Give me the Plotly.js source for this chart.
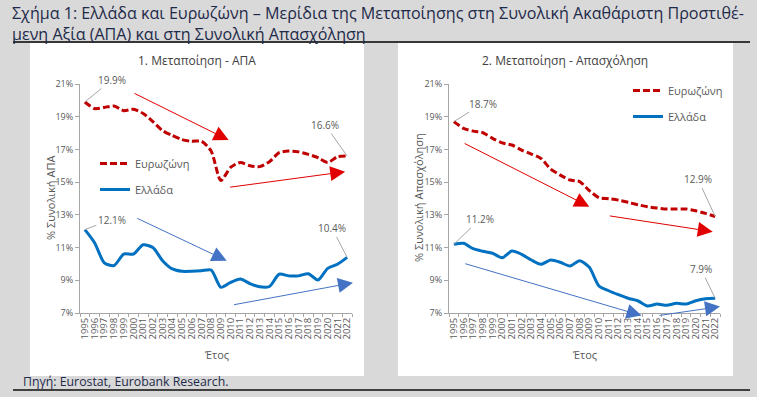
<!DOCTYPE html>
<html>
<head>
<meta charset="utf-8">
<script src="https://cdn.plot.ly/plotly-3.0.1.min.js"></script>
<style>html,body{margin:0;padding:0;background:#d9d9d9;}#chart{width:757px;height:397px;}</style>
</head>
<body>
<div id="chart"></div>
<script>
// ---- data ----
const years = [1995,1996,1997,1998,1999,2000,2001,2002,2003,2004,2005,2006,2007,2008,2009,2010,2011,2012,2013,2014,2015,2016,2017,2018,2019,2020,2021,2022];
const gvaEurozone = [19.9,19.5,19.57,19.65,19.37,19.45,19.2,18.7,18.15,17.85,17.6,17.5,17.5,16.9,15.1,15.9,16.2,16.0,15.95,16.25,16.8,16.9,16.85,16.7,16.5,16.2,16.55,16.6];
const gvaGreece = [12.1,11.3,10.07,9.9,10.6,10.6,11.17,11.0,10.2,9.7,9.55,9.55,9.58,9.63,8.57,8.87,9.08,8.8,8.6,8.62,9.37,9.27,9.27,9.4,9.02,9.73,9.98,10.4];
const empEurozone = [18.7,18.29,18.12,18.02,17.68,17.4,17.27,16.96,16.72,16.45,15.8,15.43,15.13,15.03,14.48,14.05,13.99,13.9,13.77,13.62,13.5,13.42,13.36,13.36,13.36,13.25,13.09,12.9];
const empGreece = [11.2,11.26,10.93,10.77,10.65,10.38,10.79,10.59,10.24,9.98,10.24,10.1,9.87,10.2,9.79,8.65,8.36,8.12,7.9,7.75,7.43,7.55,7.47,7.59,7.55,7.75,7.87,7.9];
const seriesNames = ["Ευρωζώνη", "Ελλάδα"];
const panelTitles = ["1. Μεταποίηση - ΑΠΑ", "2. Μεταποίηση - Απασχόληση"];
const yTitles = ["% Συνολική ΑΠΑ", "% Συνολική Απασχόληση"];
const xTitle = "Έτος";
const yTicks = [7,9,11,13,15,17,19,21];
const chartTitle = "Σχήμα 1: Ελλάδα και Ευρωζώνη – Μερίδια της Μεταποίησης στη Συνολική Ακαθάριστη Προστιθέ-<br>μενη Αξία (ΑΠΑ) και στη Συνολική Απασχόληση";
const sourceText = "Πηγή: Eurostat, Eurobank Research.";
// trend arrows: [panel, series, fromYear, fromValue, toYear, toValue]
const trendArrows = [
  [1, 0, 1999.96, 20.47, 2009.8, 17.57],
  [1, 0, 2009.8, 14.68, 2021.8, 15.64],
  [1, 1, 2000.24, 12.83, 2009.6, 10.2],
  [1, 1, 2010.2, 7.49, 2022.6, 8.85],
  [2, 0, 1995.96, 17.41, 2009.0, 13.5],
  [2, 0, 2010.96, 12.95, 2021.75, 11.97],
  [2, 1, 1996.03, 10.04, 2014.4, 6.84],
  [2, 1, 2016.1, 6.84, 2022.5, 7.39]
];
// ---- end data ----

const RED = '#c00000', BLUE = '#0070c0';
const FONT = 'Open Sans, Liberation Sans, sans-serif';
const GRAY = '#595959';
const NAVY = '#1e2a4a';
const cats = years.map(String);
const idx = y => y - years[0];

function lineTrace(y, i, xa, ya, leg) {
  return {
    x: cats, y: y, type: 'scatter', mode: 'lines',
    name: seriesNames[i], xaxis: xa, yaxis: ya, legend: leg,
    legendgroup: leg + i, showlegend: true,
    line: i === 0 ? {color: RED, width: 3, dash: '7px,3px', shape: 'spline', smoothing: 0.7}
                  : {color: BLUE, width: 3, shape: 'spline', smoothing: 0.7},
    hoverinfo: 'skip'
  };
}

const traces = [
  lineTrace(gvaEurozone, 0, 'x', 'y', 'legend'),
  lineTrace(gvaGreece, 1, 'x', 'y', 'legend'),
  lineTrace(empEurozone, 0, 'x2', 'y2', 'legend2'),
  lineTrace(empGreece, 1, 'x2', 'y2', 'legend2')
];

const W = 757, H = 397;
const px = v => v / W, py = v => 1 - v / H;

function xAxis(domain, anchor) {
  return {
    domain: domain, anchor: anchor, type: 'category', range: [-0.5, years.length - 0.5],
    tickmode: 'array', tickvals: cats, ticktext: cats,
    tickangle: -90, ticklabeloverflow: 'allow',
    tickfont: {family: FONT, size: 9.5, color: GRAY},
    showgrid: false, zeroline: false, showline: true, linecolor: '#a6a6a6', linewidth: 1,
    ticks: 'outside', ticklen: 3, tickcolor: '#a6a6a6', tickson: 'boundaries', fixedrange: true
  };
}
function yAxis(domain, anchor) {
  return {
    domain: domain, anchor: anchor, range: [7, 21], tickvals: yTicks,
    ticktext: yTicks.map(v => v + '%'),
    tickfont: {family: FONT, size: 9, color: GRAY},
    showgrid: false, zeroline: false, showline: true, linecolor: '#a6a6a6', linewidth: 1,
    ticks: 'outside', ticklen: 4, tickcolor: '#a6a6a6', fixedrange: true
  };
}

const yDom = [py(313), py(84)];
const legFont = {family: FONT, size: 11, color: GRAY};
const layout = {
  width: W, height: H,
  margin: {l: 0, r: 0, t: 0, b: 0},
  paper_bgcolor: '#d9d9d9', plot_bgcolor: 'rgba(0,0,0,0)',
  showlegend: true,
  xaxis: xAxis([px(80), px(352)], 'y'),
  yaxis: yAxis(yDom, 'x'),
  xaxis2: xAxis([px(449), px(720)], 'y2'),
  yaxis2: yAxis(yDom, 'x2'),
  legend: {x: px(95), y: py(149), xanchor: 'left', yanchor: 'top', bgcolor: 'rgba(0,0,0,0)',
           font: legFont, traceorder: 'grouped', tracegroupgap: 7, itemwidth: 30},
  legend2: {x: px(628), y: py(76), xanchor: 'left', yanchor: 'top', bgcolor: 'rgba(0,0,0,0)',
           font: legFont, traceorder: 'grouped', tracegroupgap: 7, itemwidth: 30},
  shapes: [
    {type: 'line', xref: 'paper', yref: 'paper', x0: px(13), x1: px(750), y0: py(42), y1: py(42), line: {color: '#000', width: 1.5}, layer: 'below'},
    {type: 'rect', xref: 'paper', yref: 'paper', x0: px(30), x1: px(364), y0: py(376), y1: py(43), fillcolor: '#ffffff', line: {width: 0}, layer: 'below'},
    {type: 'rect', xref: 'paper', yref: 'paper', x0: px(398), x1: px(733), y0: py(376), y1: py(43), fillcolor: '#ffffff', line: {width: 0}, layer: 'below'},
    {type: 'line', xref: 'paper', yref: 'paper', x0: px(13), x1: px(750), y0: py(390), y1: py(390), line: {color: '#404040', width: 2}, layer: 'below'}
  ],
  annotations: []
};

const ann = layout.annotations;
ann.push({xref: 'paper', yref: 'paper', x: px(10), y: py(23), xanchor: 'left', yanchor: 'middle', align: 'left',
  text: chartTitle, showarrow: false, font: {family: FONT, size: 16.1, color: NAVY}});
ann.push({xref: 'paper', yref: 'paper', x: px(21), y: py(381), xanchor: 'left', yanchor: 'middle',
  text: sourceText, showarrow: false, font: {family: FONT, size: 12.3, color: NAVY}});
ann.push({xref: 'paper', yref: 'paper', x: px(197), y: py(60), xanchor: 'center', yanchor: 'middle',
  text: panelTitles[0], showarrow: false, font: {family: FONT, size: 12, color: '#404040'}});
ann.push({xref: 'paper', yref: 'paper', x: px(565), y: py(60), xanchor: 'center', yanchor: 'middle',
  text: panelTitles[1], showarrow: false, font: {family: FONT, size: 12, color: '#404040'}});
// axis titles
ann.push({xref: 'paper', yref: 'paper', x: px(50), y: py(198), textangle: -90, xanchor: 'center', yanchor: 'middle',
  text: yTitles[0], showarrow: false, font: {family: FONT, size: 11, color: GRAY}});
ann.push({xref: 'paper', yref: 'paper', x: px(418), y: py(198), textangle: -90, xanchor: 'center', yanchor: 'middle',
  text: yTitles[1], showarrow: false, font: {family: FONT, size: 11, color: GRAY}});
ann.push({xref: 'paper', yref: 'paper', x: px(216), y: py(354), xanchor: 'center', yanchor: 'middle',
  text: xTitle, showarrow: false, font: {family: FONT, size: 11, color: GRAY}});
ann.push({xref: 'paper', yref: 'paper', x: px(584), y: py(354), xanchor: 'center', yanchor: 'middle',
  text: xTitle, showarrow: false, font: {family: FONT, size: 11, color: GRAY}});

// value labels with leader lines
function valueLabel(xa, ya, arr, i, ax, ay) {
  ann.push({xref: xa, yref: ya, x: i, y: arr[i], text: arr[i].toFixed(1) + '%',
    showarrow: true, arrowhead: 0, arrowwidth: 1, arrowcolor: '#a6a6a6', ax: ax, ay: ay, standoff: 0,
    font: {family: FONT, size: 10, color: GRAY}});
}
const last = years.length - 1;
valueLabel('x', 'y', gvaEurozone, 0, 27, -22);
valueLabel('x', 'y', gvaEurozone, last, -22, -31);
valueLabel('x', 'y', gvaGreece, 0, 27, -10);
valueLabel('x', 'y', gvaGreece, last, -15, -29);
valueLabel('x2', 'y2', empEurozone, 0, 29, -18);
valueLabel('x2', 'y2', empEurozone, last, -17, -37);
valueLabel('x2', 'y2', empGreece, 0, 26, -25);
valueLabel('x2', 'y2', empGreece, last, -14, -29);

// trend arrows
trendArrows.forEach(a => {
  const xa = a[0] === 1 ? 'x' : 'x2', ya = a[0] === 1 ? 'y' : 'y2';
  const col = a[1] === 0 ? '#e00000' : '#4472c4';
  ann.push({xref: xa, yref: ya, axref: xa, ayref: ya, x: idx(a[4]), y: a[5], ax: idx(a[2]), ay: a[3],
    text: '', showarrow: true, arrowhead: 2, arrowsize: 3, arrowwidth: 1, arrowcolor: col, standoff: 0});
});

Plotly.newPlot('chart', traces, layout, {staticPlot: true, displayModeBar: false});
</script>
</body>
</html>
